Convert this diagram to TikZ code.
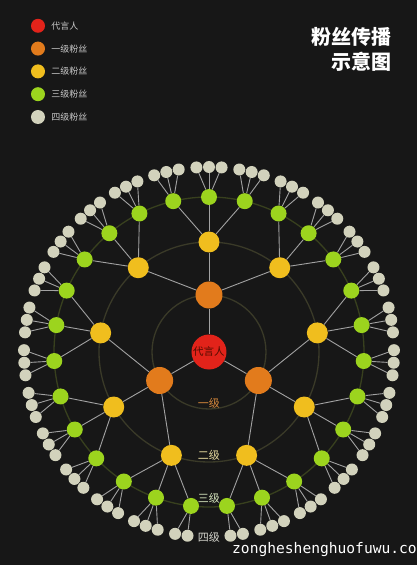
\documentclass[tikz,border=0pt]{standalone}
\usepackage{fontspec}
\setmainfont{Noto Sans CJK SC}
\newfontfamily\wmfont{DejaVu Sans Mono}
\usetikzlibrary{positioning}
\pgfdeclarelayer{bg}
\pgfsetlayers{bg,main}
\definecolor{bgblack}{HTML}{171717}
\definecolor{daiyan}{HTML}{E2231A}
\definecolor{fan1}{HTML}{E27B1C}
\definecolor{fan2}{HTML}{F0BE1E}
\definecolor{fan3}{HTML}{9CD41E}
\definecolor{fan4}{HTML}{D2D2BC}
\definecolor{ringc}{HTML}{3A3A28}
\definecolor{ringg}{HTML}{38401E}
\definecolor{linkc}{HTML}{A2A2A2}
\definecolor{legtext}{HTML}{C8C8C8}
\tikzset{
	fan/.style={circle, inner sep=0pt, minimum size=#1},
	lv1/.style={fan=27pt, fill=fan1},
	lv2/.style={fan=21pt, fill=fan2},
	lv3/.style={fan=16pt, fill=fan3},
	lv4/.style={fan=12pt, fill=fan4},
	link/.style={draw=linkc, line width=.9pt},
	ring/.style={draw=ringc, line width=1.3pt},
	legdot/.style={fan=14pt},
	legtxt/.style={text=legtext, font=\fontsize{9}{10}\selectfont, inner sep=0pt},
	lvtxt/.style={font=\fontsize{11}{12}\selectfont, inner sep=1pt}
}
\begin{document}
\begin{tikzpicture}[x=1pt, y=1pt]
	\begin{pgfonlayer}{bg}
	\fill [bgblack] (-209, -213) rectangle (208, 352);
	% 圆环
	\draw [ring] (0, 0) circle (57);
	\draw [ring] (0, 0) circle (110);
	\draw [ring, draw=ringg] (0, 0) circle (155);
	\end{pgfonlayer}
	\useasboundingbox (-209, -213) rectangle (208, 352);
	
	% 代言人
	\node [fan=35pt, fill=daiyan, text={rgb,255:red,80;green,12;blue,0},
		font=\fontsize{10.5}{12}\selectfont] (dyr) at (0, 0) {代言人};
	
	% 一级 -> 二级 -> 三级 -> 四级
	\foreach \i in {0,1,2} {
		\pgfmathsetmacro\ao{90+120*\i}
		\node [lv1] (o\i) at (\ao:57) {};
		\begin{pgfonlayer}{bg}\draw [link] (dyr) -- (o\i);\end{pgfonlayer}
		\foreach \j in {0,1,2} {
			\pgfmathsetmacro\ay{\ao+40*(\j-1)}
			\node [lv2] (y\i\j) at (\ay:110) {};
			\begin{pgfonlayer}{bg}\draw [link] (o\i) -- (y\i\j);\end{pgfonlayer}
			\foreach \m in {0,1,2} {
				\pgfmathsetmacro\ag{\ay+13.333*(\m-1)}
				\node [lv3] (g\i\j\m) at (\ag:155) {};
				\begin{pgfonlayer}{bg}\draw [link] (y\i\j) -- (g\i\j\m);\end{pgfonlayer}
				\foreach \n in {0,1,2} {
					\pgfmathsetmacro\al{\ag+3.9*(\n-1)}
					% 底部留空给“四级”
					\pgfmathtruncatemacro\gap{abs(\al-270)<3}
					\ifnum\gap=0
					\node [lv4] (q\i\j\m\n) at (\al:185) {};
					\begin{pgfonlayer}{bg}\draw [link] (g\i\j\m) -- (q\i\j\m\n);\end{pgfonlayer}
					\fi
				}
			}
		}
	}
	
	% 级别
	\node [lvtxt, text={rgb,255:red,217;green,138;blue,60}] (t1) at (0, -51) {一级};
	\node [lvtxt, text={rgb,255:red,232;green,220;blue,160}] (t2) at (0, -103) {二级};
	\node [lvtxt, text={rgb,255:red,216;green,232;blue,192}] (t3) at (0, -146) {三级};
	\node [lvtxt, text={rgb,255:red,216;green,216;blue,208}] (t4) at (0, -185) {四级};
	
	% 图例
	\foreach \c/\t [count=\n] in {daiyan/代言人, fan1/一级粉丝, fan2/二级粉丝, fan3/三级粉丝, fan4/四级粉丝} {
		\node [legdot, fill=\c] (leg\n) at (-171, {349-22.8*\n}) {};
		\node [legtxt, right=6pt of leg\n] (legt\n) {\t};
	}
	
	% 标题
	\node [anchor=east, text=white, font=\fontsize{20}{22}\selectfont\bfseries, inner sep=0pt] (title1) at (183, 315) {粉丝传播};
	\node [anchor=east, text=white, font=\fontsize{20}{22}\selectfont\bfseries, inner sep=0pt] (title2) at (183, 290) {示意图};
	
	% 水印
	\node [anchor=base west, text=white, font=\wmfont\fontsize{14.6}{16}\selectfont, inner sep=0pt] (wm) at (23, -201) {zongheshenghuofuwu.com};
\end{tikzpicture}
\end{document}
